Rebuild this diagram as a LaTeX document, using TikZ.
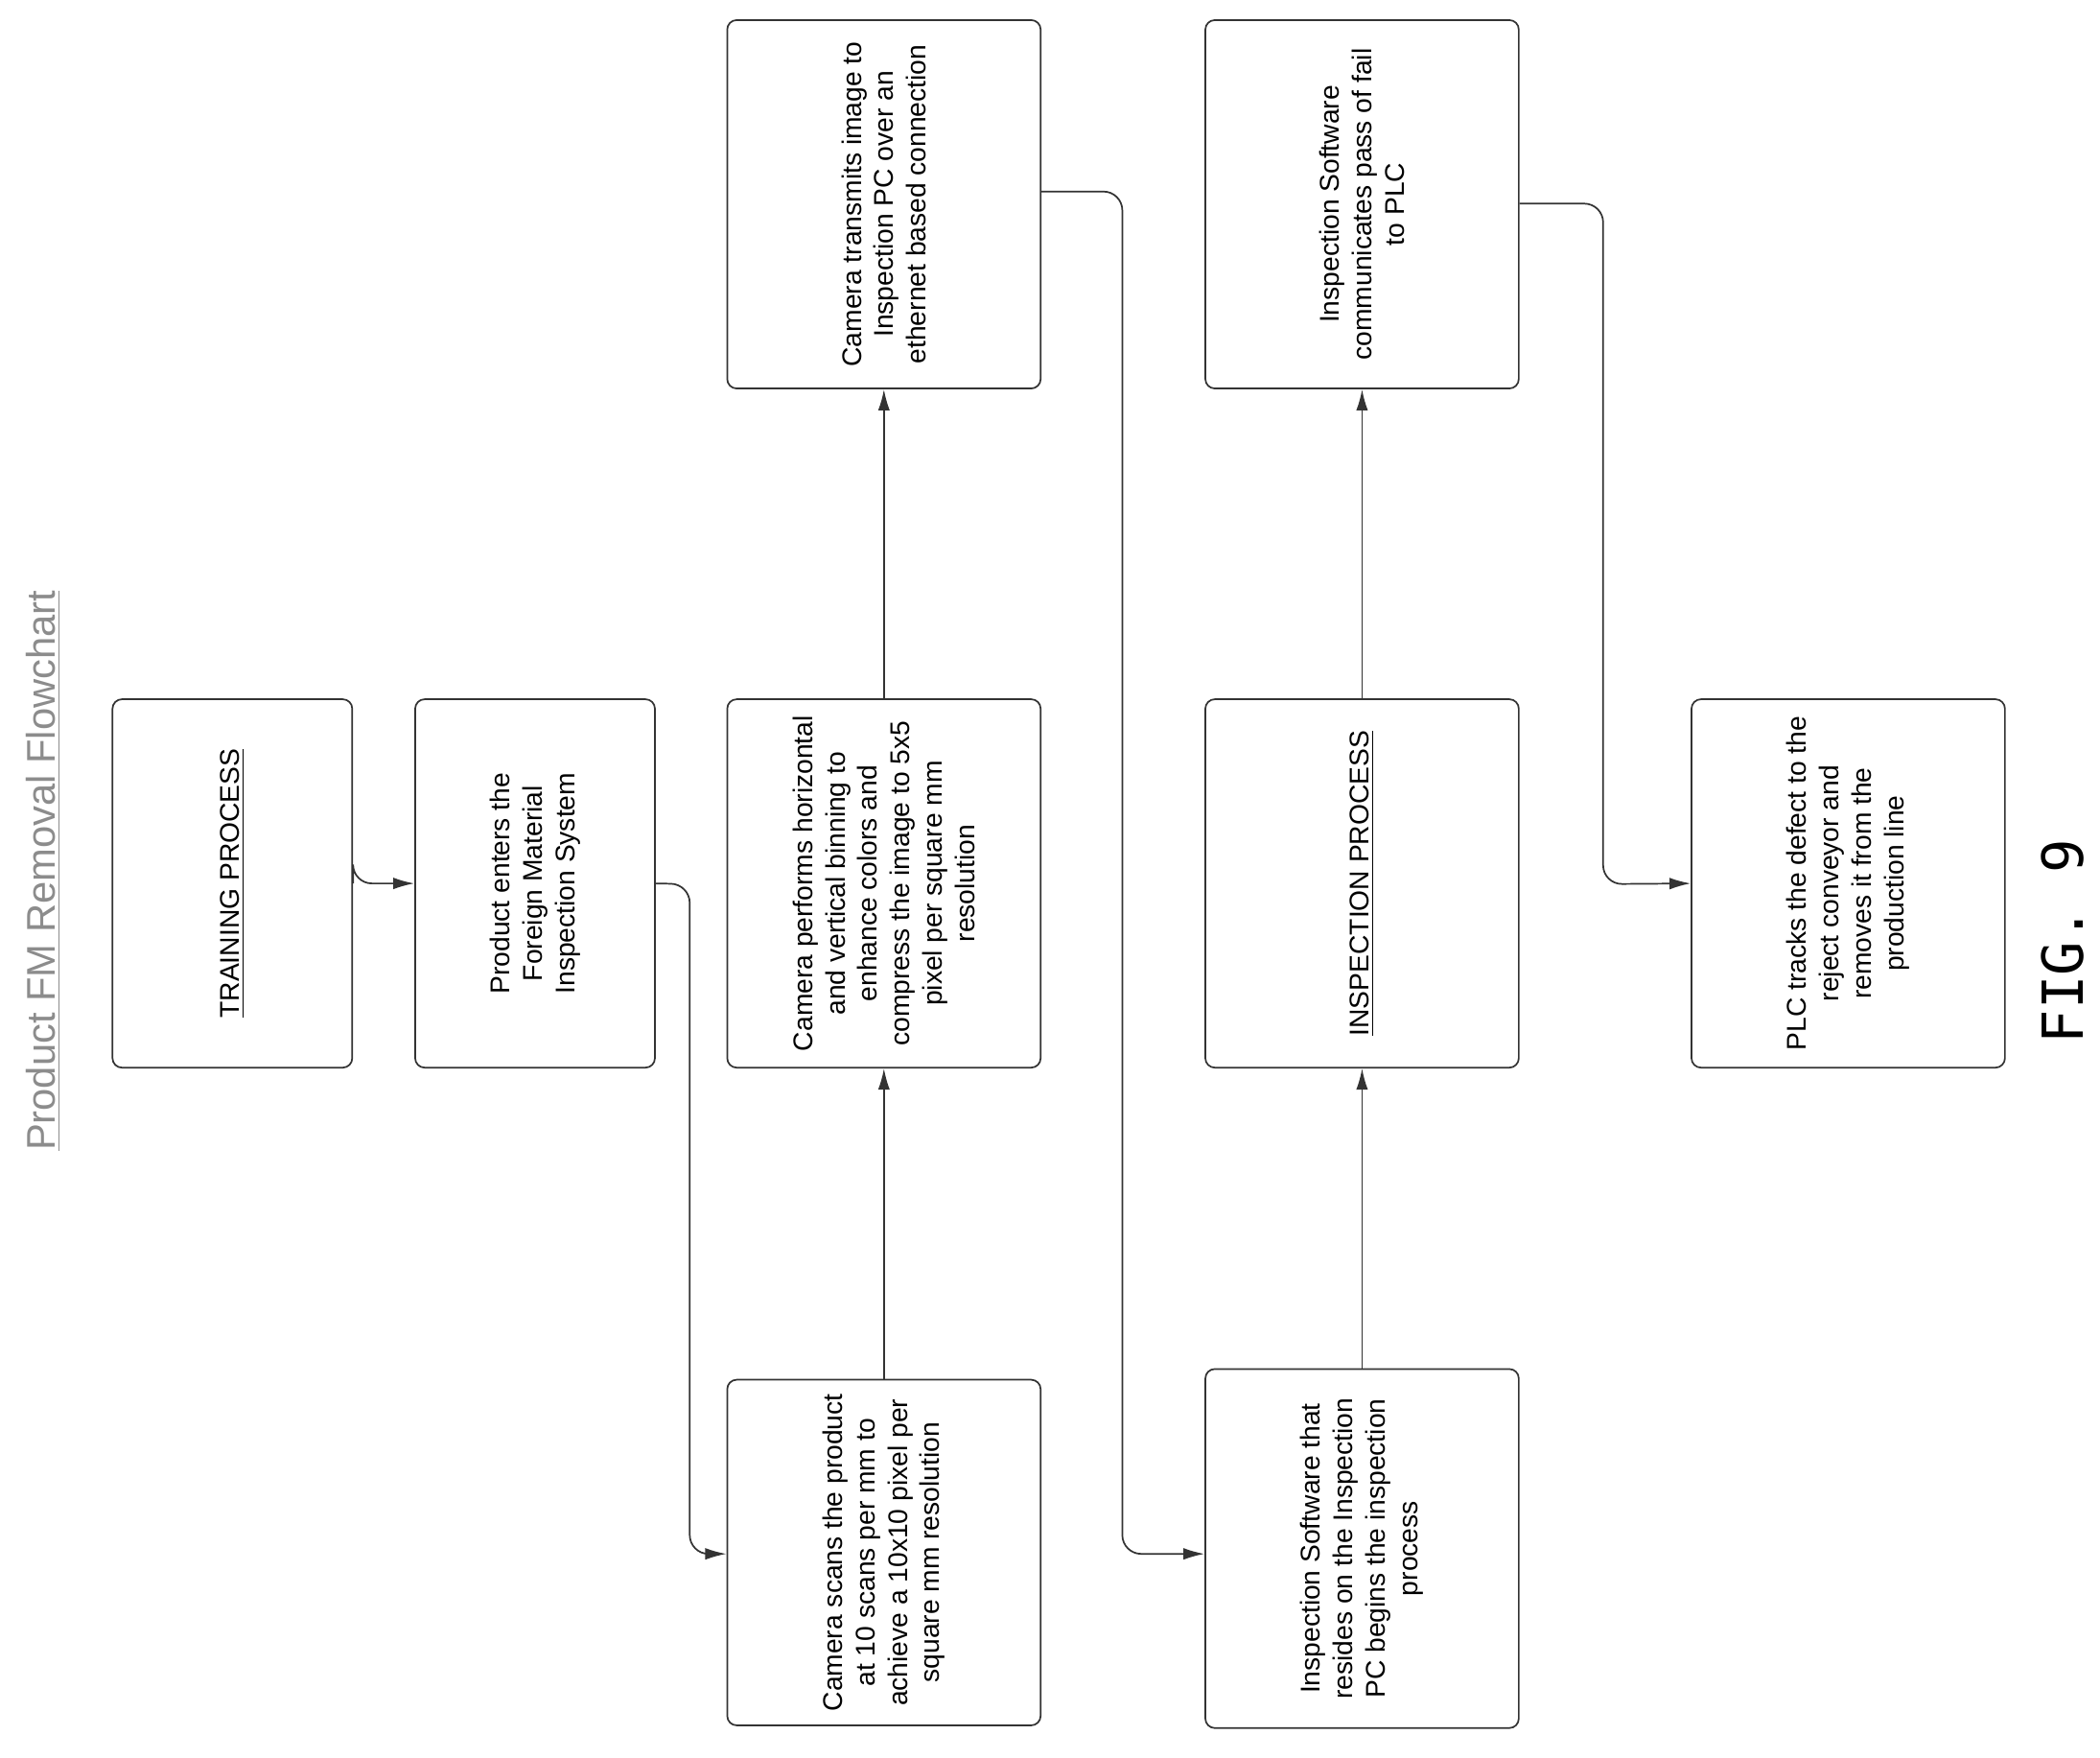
\documentclass[tikz,border=0pt]{standalone}
\usepackage{fontspec}
\setmainfont{Liberation Sans}
\newfontfamily\figfont{DejaVu Sans Mono}
\usetikzlibrary{arrows.meta}
\begin{document}
\begin{tikzpicture}[x=0.02cm,y=-0.02cm,
  box/.style={draw=black!80,line width=0.7pt,rounded corners=4pt,inner sep=0pt},
  txt/.style={rotate=90,align=center,font=\fontsize{11.5}{13.8}\selectfont,inner sep=0pt},
  arr/.style={draw=black!80,line width=0.7pt,rounded corners=8pt,-{Latex[length=9pt,width=5pt]}}]
\useasboundingbox (0,0) rectangle (1568,1312);
\newcommand{\mybox}[6]{% name x1 y1 x2 y2 text
  \node[box,minimum width={(#4-#2)*0.02cm},minimum height={(#5-#3)*0.02cm}] (#1) at ({(#2+#4)/2},{(#3+#5)/2}) {};
  \node[txt] (#1t) at (#1.center) {#6};}
\mybox{train}{84}{522}{263}{797}{\underline{TRAINING PROCESS}}
\mybox{enter}{310}{522}{489}{797}{Product enters the\\Foreign Material\\Inspection System}
\mybox{perf}{543}{522}{777}{797}{Camera performs horizontal\\and vertical binning to\\enhance colors and\\compress the image to 5x5\\pixel per square mm\\resolution}
\mybox{trans}{543}{15}{777}{290}{Camera transmits image to\\Inspection PC over an\\ethernet based connection}
\mybox{scan}{543}{1030}{777}{1288}{Camera scans the product\\at 10 scans per mm to\\achieve a 10x10 pixel per\\square mm resolution}
\mybox{comm}{900}{15}{1134}{290}{Inspection Software\\communicates pass of fail\\to PLC}
\mybox{insp}{900}{522}{1134}{797}{\underline{INSPECTION PROCESS}}
\mybox{res}{900}{1022}{1134}{1290}{Inspection Software that\\resides on the Inspection\\PC begins the inspection\\process}
\mybox{plc}{1263}{522}{1497}{797}{PLC tracks the defect to the\\reject conveyor and\\removes it from the\\production line}
\node[rotate=90,text=black!45,font=\fontsize{17}{20}\selectfont,inner sep=1pt] (title) at (32,650) {\underline{Product FM Removal Flowchart}};
\node[rotate=90,font=\figfont\fontsize{24}{28}\selectfont] (fig) at (1540,703) {FIG. 9};
\draw[arr] (train.east) -- (enter.east -| train.east) -- (enter.west);
\draw[arr] (enter.east) -- (515,660) -- (515,1160) -- (scan.west |- 0,1160);
\draw[arr] (scan.north) -- (perf.south);
\draw[arr] (perf.north) -- (trans.south);
\draw[arr] (trans.east |- 0,143) -- (838,143) -- (838,1160) -- (res.west |- 0,1160);
\draw[arr] (res.north) -- (insp.south);
\draw[arr] (insp.north) -- (comm.south);
\draw[arr] (comm.east |- 0,152) -- (1197,152) -- (1197,660) -- (plc.west);
\end{tikzpicture}
\end{document}
